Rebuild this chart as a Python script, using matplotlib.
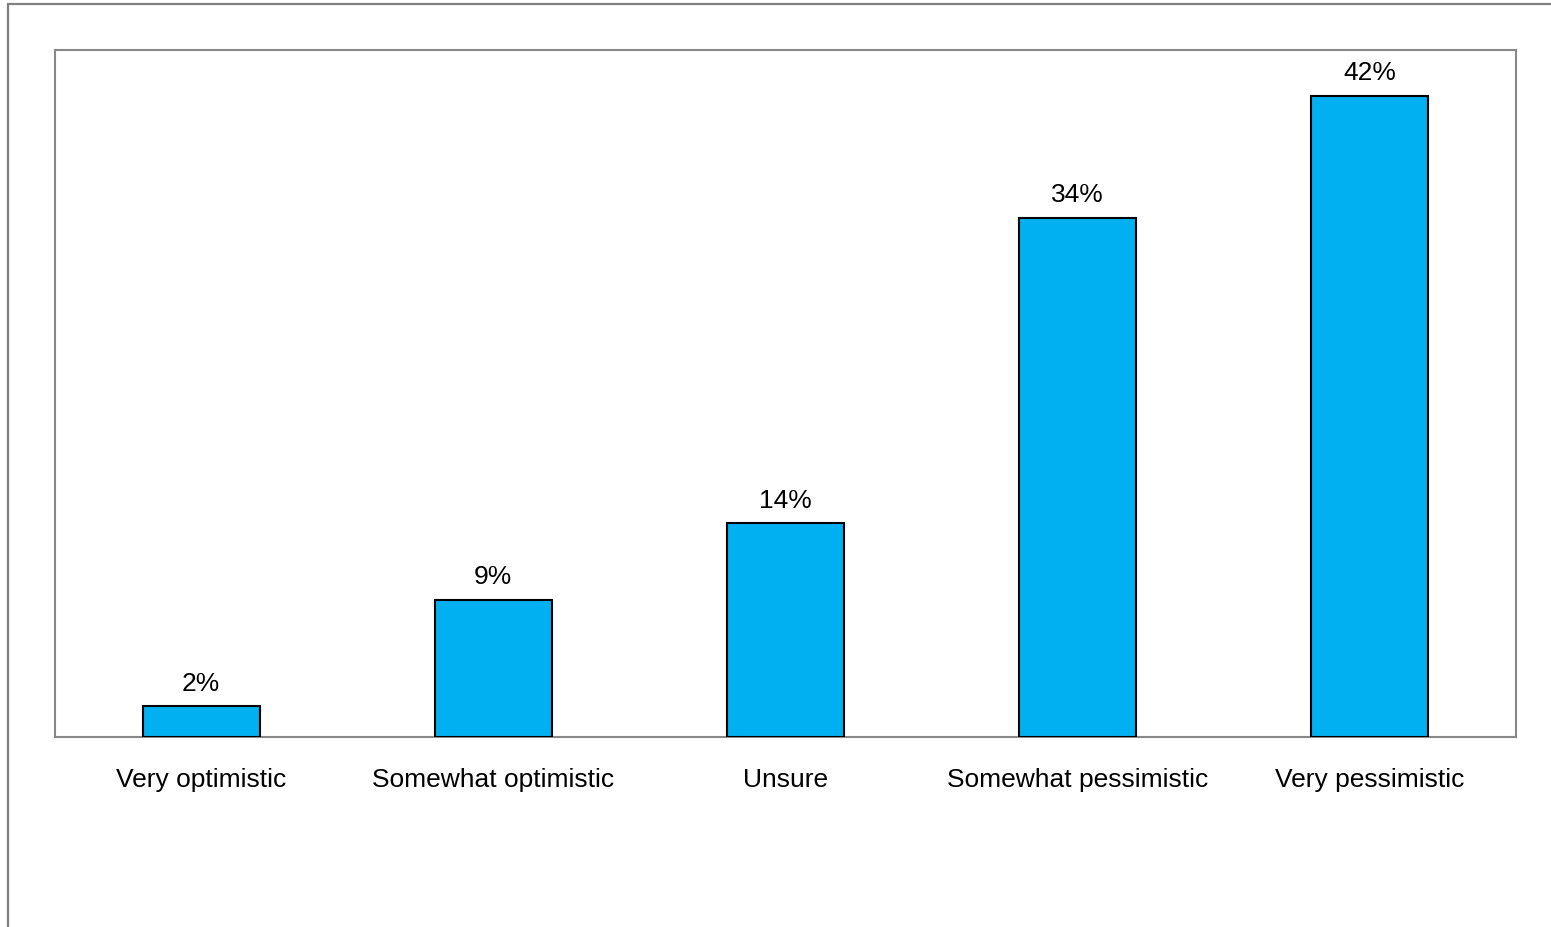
import matplotlib

matplotlib.use("Agg")
import matplotlib.pyplot as plt
from matplotlib.patches import Rectangle

categories = ["Very optimistic", "Somewhat optimistic", "Unsure",
              "Somewhat pessimistic", "Very pessimistic"]
values = [2, 9, 14, 34, 42]

W, H = 1551, 928
fig = plt.figure(figsize=(W / 100, H / 100), dpi=100)
plt.rcParams["font.family"] = ["Liberation Sans", "DejaVu Sans"]

# outer chart frame (runs off the right/bottom edge)
fig.patches.append(Rectangle((8 / W, 1 - 1000 / H), 1600 / W, 995 / H,
                             transform=fig.transFigure, fill=False,
                             edgecolor="#808080", linewidth=1.6))

left, right, top, bottom = 55, 1516, 51, 738
ax = fig.add_axes([left / W, 1 - bottom / H, (right - left) / W, (bottom - top) / H])

xs = range(len(categories))
ax.bar(xs, values, width=0.4, color="#00B0F0", edgecolor="black", linewidth=1.5, zorder=3)
for x, v in zip(xs, values):
    ax.text(x, v + 0.75, f"{v}%", ha="center", va="bottom", fontsize=19)

ax.set_xlim(-0.5, len(categories) - 0.5)
ax.set_ylim(0, 45)
ax.set_yticks([])
ax.set_xticks(list(xs))
ax.set_xticklabels(categories, fontsize=19)
ax.tick_params(axis="x", length=0, pad=21.5)
for s in ax.spines.values():
    s.set_color("#888888")
    s.set_linewidth(1.5)

fig.savefig("out.png", dpi=100)
